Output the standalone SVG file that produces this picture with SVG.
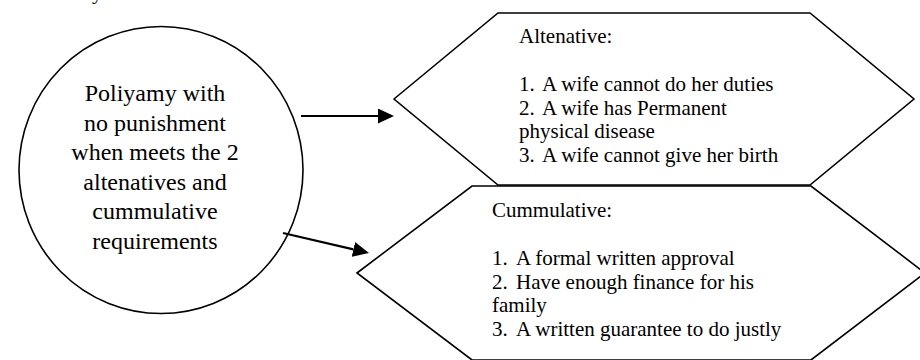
<svg xmlns="http://www.w3.org/2000/svg" width="920" height="360" viewBox="0 0 920 360">
<style>
  .shape { fill: #ffffff; stroke: #000000; stroke-width: 1.6; }
  .conn { stroke: #000000; stroke-width: 2.2; fill: none; }
  text { fill: #000000; }
  .c { font-size: 24px; text-anchor: middle; }
  .h { font-size: 21px; }
</style>
<defs>
  <marker id="arrow" markerUnits="userSpaceOnUse" markerWidth="16" markerHeight="15" refX="0" refY="7.5" orient="auto">
    <path d="M0,0 L16,7.5 L0,15 z" fill="#000000"/>
  </marker>
</defs>
<rect x="0" y="0" width="920" height="360" fill="#ffffff"/>
<g font-family="Liberation Serif, Times New Roman, serif">
<text class="h" x="92" y="-1">y</text>
<g id="circle-node">
  <ellipse class="shape" cx="161" cy="170" rx="142" ry="143.5"/>
  <text class="c" x="155" y="101">Poliyamy with</text>
  <text class="c" x="155" y="130.5">no punishment</text>
  <text class="c" x="155" y="160">when meets the 2</text>
  <text class="c" x="155" y="189.5">altenatives and</text>
  <text class="c" x="155" y="219">cummulative</text>
  <text class="c" x="155" y="248.5">requirements</text>
</g>
<g id="alternative-node">
  <polygon class="shape" points="394,99 498,13 810,13 914,99 810,185 498,185"/>
  <text class="h" x="519" y="43">Altenative:</text>
  <text class="h" y="91"><tspan x="519">1.</tspan><tspan x="542">A wife cannot do her duties</tspan></text>
  <text class="h" y="114.5"><tspan x="519">2.</tspan><tspan x="542">A wife has Permanent</tspan></text>
  <text class="h" x="519" y="138">physical disease</text>
  <text class="h" y="162"><tspan x="519">3.</tspan><tspan x="542">A wife cannot give her birth</tspan></text>
</g>
<g id="cumulative-node">
  <polygon class="shape" points="357,273 472,186 811,186 925,273 811,360 472,360"/>
  <text class="h" x="492" y="217">Cummulative:</text>
  <text class="h" y="265"><tspan x="492">1.</tspan><tspan x="516">A formal written approval</tspan></text>
  <text class="h" y="288.5"><tspan x="492">2.</tspan><tspan x="516">Have enough finance for his</tspan></text>
  <text class="h" x="492" y="312">family</text>
  <text class="h" y="335.5"><tspan x="492">3.</tspan><tspan x="516">A written guarantee to do justly</tspan></text>
</g>
</g>
<g id="connectors">
  <line class="conn" x1="301" y1="116" x2="378" y2="116" marker-end="url(#arrow)"/>
  <line class="conn" x1="283" y1="233" x2="353.4" y2="249.4" marker-end="url(#arrow)"/>
</g>
</svg>
